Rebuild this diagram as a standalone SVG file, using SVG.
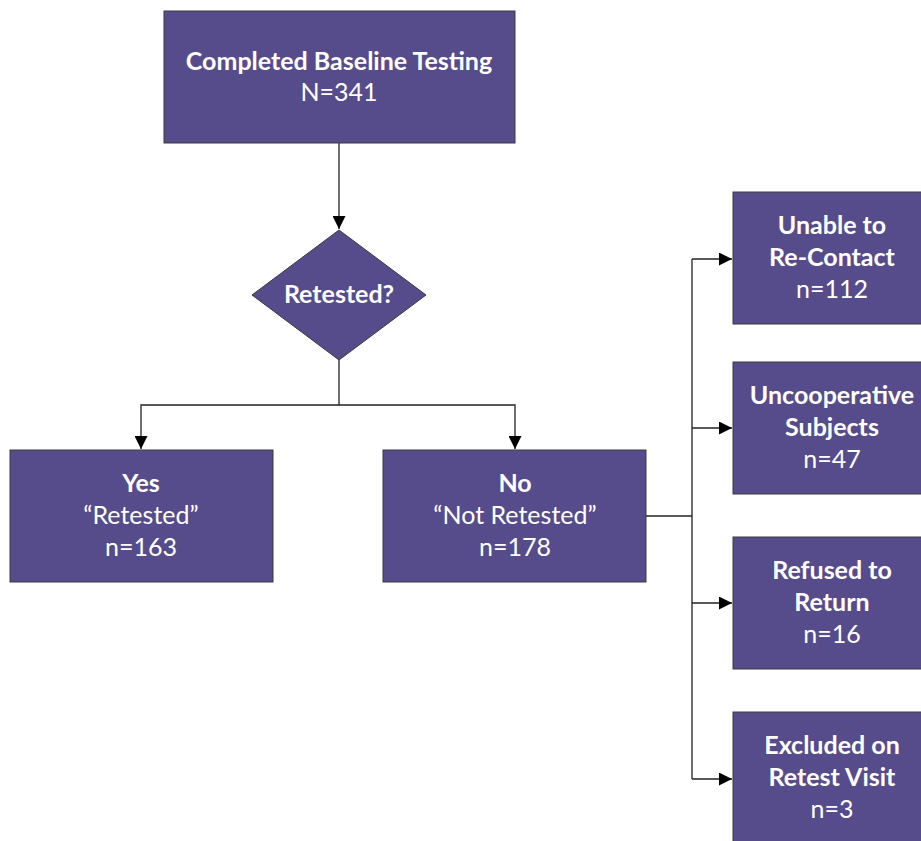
<svg xmlns="http://www.w3.org/2000/svg" width="921" height="841" viewBox="0 0 921 841">
<defs>
<style>
.box{fill:#574C8B;stroke:#3a3a3a;stroke-width:1}
.t{font-family:Lato,"Open Sans","Liberation Sans",sans-serif;font-size:25px;fill:#ffffff;text-anchor:middle}
.b{font-weight:bold}
.c{fill:none;stroke:#222;stroke-width:1.3}
</style>
<marker id="ah" viewBox="0 0 10 10" refX="10" refY="5" markerWidth="13" markerHeight="13" markerUnits="userSpaceOnUse" orient="auto">
<path d="M0,0 L10,5 L0,10 z" fill="#000"/>
</marker>
</defs>
<rect width="921" height="841" fill="#fff"/>
<g id="connectors">
<line class="c" x1="339" y1="143" x2="339" y2="229" marker-end="url(#ah)"/>
<polyline class="c" points="339,360 339,405 141,405 141,449" marker-end="url(#ah)"/>
<polyline class="c" points="339,405 515,405 515,449" marker-end="url(#ah)"/>
<polyline class="c" points="646,516 692,516"/>
<line class="c" x1="692" y1="259" x2="692" y2="779"/>
<line class="c" x1="692" y1="259" x2="732" y2="259" marker-end="url(#ah)"/>
<line class="c" x1="692" y1="428" x2="732" y2="428" marker-end="url(#ah)"/>
<line class="c" x1="692" y1="603" x2="732" y2="603" marker-end="url(#ah)"/>
<line class="c" x1="692" y1="779" x2="732" y2="779" marker-end="url(#ah)"/>
</g>
<g id="baseline">
<rect class="box" x="164" y="11" width="351" height="132"/>
<text class="t b" x="339" y="70">Completed Baseline Testing</text>
<text class="t" x="339" y="101">N=341</text>
</g>
<g id="retested">
<polygon class="box" points="339,230 426,295 339,360 252,295"/>
<text class="t b" x="339" y="303">Retested?</text>
</g>
<g id="yes">
<rect class="box" x="10" y="450" width="263" height="132"/>
<text class="t b" x="141" y="492">Yes</text>
<text class="t" x="141" y="524">“Retested”</text>
<text class="t" x="141" y="556">n=163</text>
</g>
<g id="no">
<rect class="box" x="383" y="450" width="263" height="132"/>
<text class="t b" x="515" y="492">No</text>
<text class="t" x="515" y="524">“Not Retested”</text>
<text class="t" x="515" y="556">n=178</text>
</g>
<g id="unable">
<rect class="box" x="733" y="192" width="200" height="132"/>
<text class="t b" x="832" y="234">Unable to</text>
<text class="t b" x="832" y="266">Re-Contact</text>
<text class="t" x="832" y="298">n=112</text>
</g>
<g id="uncooperative">
<rect class="box" x="733" y="362" width="200" height="132"/>
<text class="t b" x="832" y="404">Uncooperative</text>
<text class="t b" x="832" y="436">Subjects</text>
<text class="t" x="832" y="468">n=47</text>
</g>
<g id="refused">
<rect class="box" x="733" y="537" width="200" height="132"/>
<text class="t b" x="832" y="579">Refused to</text>
<text class="t b" x="832" y="611">Return</text>
<text class="t" x="832" y="643">n=16</text>
</g>
<g id="excluded">
<rect class="box" x="733" y="712" width="200" height="140"/>
<text class="t b" x="832" y="754">Excluded on</text>
<text class="t b" x="832" y="786">Retest Visit</text>
<text class="t" x="832" y="818">n=3</text>
</g>
</svg>
